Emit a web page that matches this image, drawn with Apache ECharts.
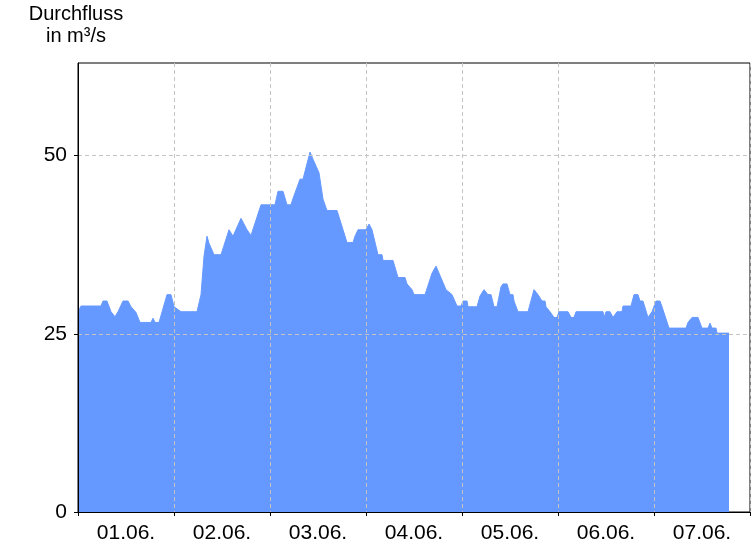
<!DOCTYPE html>
<html>
<head>
<meta charset="utf-8">
<script src="https://cdn.jsdelivr.net/npm/echarts@6/dist/echarts.min.js"></script>
<style>html,body{margin:0;padding:0;background:#fff}#c{width:756px;height:546px}</style>
</head>
<body>
<div id="c"></div>
<script>
// Day labels (each band = one day)
const days = ['01.06.', '02.06.', '03.06.', '04.06.', '05.06.', '06.06.', '07.06.'];
// y axis tick labels
const yTicks = [0, 25, 50];
// time in hours since 01.06. 00:00
const hours = [0, 0.75, 5.75, 6.25, 7.25, 8.25, 9.25, 10, 11.25, 12.5, 13.25, 14.5, 15.5, 18.25, 18.75, 19.25, 20.25, 22.25, 23.25, 24, 25.75, 29.75, 30.75, 31.5, 32.25, 32.75, 33.25, 34, 35.75, 37.75, 38.75, 40.75, 42.25, 43.25, 45.75, 49.25,
  50, 51.25, 52.25, 53.25, 53.75, 54.25, 55.5, 56.25, 58, 58.75, 59, 60.25, 61.25, 62.25, 64.75, 67.25, 68.75, 69.25, 69.75, 70, 72, 72.75, 73.5, 75, 76, 76.25, 78.75, 80, 81.75, 82.25, 83.5, 84, 86.75, 88.5, 89.5, 90, 92, 92.5, 93.5, 94.75, 95.75, 96.25, 97.25,
  97.5, 99.75, 100.5, 101.5, 102, 102.5, 103.25, 104, 104.75, 105.75, 106.25, 107.25, 108, 108.75, 109, 110, 112.5, 114, 114.5, 115, 115.5, 116, 116.75, 117, 117.5, 118, 119, 119.75, 120.25, 122.5, 123.25, 124, 124.5, 131.25,
  131.5, 132, 133, 133.75, 134.25, 134.75, 136, 136.25, 138.25, 139, 140, 140.5, 141.25, 142.5, 143, 143.5, 144.5, 145.5, 146, 146.25, 147.75, 152, 152.5, 153.5, 155, 156, 157.5, 158, 158.5, 159.5, 159.75, 162.75];
// discharge in m³/s
const flow = [28.1, 28.9, 28.9, 29.6, 29.6, 28.1, 27.4, 28.1, 29.6, 29.6, 28.8, 28.0, 26.6, 26.6, 27.2, 26.6, 26.6, 30.5, 30.5, 28.8, 28.1, 28.1, 30.5, 35.9, 38.7, 37.7, 37.7, 36.1, 36.1, 39.6, 38.7, 41.2, 39.6, 38.8, 43.1, 43.1,
  45.0, 45.0, 43.1, 43.1, 44.0, 44.0, 46.7, 46.7, 50.5, 49.5, 49.5, 47.6, 43.9, 42.3, 42.3, 37.8, 37.8, 38.7, 38.7, 39.6, 39.6, 40.4, 39.6, 36.1, 36.1, 35.3, 35.3, 32.9, 32.9, 32.0, 31.2, 30.5, 30.5, 33.5, 34.5, 34.5, 31.2, 31.2, 30.5, 28.9, 28.9, 29.6, 29.6,
  28.8, 28.8, 30.3, 31.2, 31.2, 30.5, 30.5, 28.8, 28.8, 31.6, 32.0, 32.0, 30.5, 30.5, 29.6, 28.1, 28.1, 31.2, 31.2, 30.5, 30.5, 29.6, 29.6, 28.8, 28.8, 28.1, 27.3, 27.3, 28.1, 28.1, 27.3, 27.3, 28.1, 28.1,
  27.3, 28.1, 28.1, 27.3, 27.3, 28.1, 28.1, 28.9, 28.9, 30.5, 30.5, 29.6, 29.6, 27.3, 27.3, 28.1, 29.6, 29.6, 28.8, 28.8, 25.8, 25.8, 26.6, 27.3, 27.3, 25.8, 25.8, 26.5, 25.8, 25.8, 25.1, 25.1];

const FONT = 'Liberation Sans, Arial, sans-serif';
const gridLine = { show: true, lineStyle: { color: '#c4c4c4', type: [4, 3], width: 1 } };

const chart = echarts.init(document.getElementById('c'), null, { renderer: 'canvas' });
chart.setOption({
  animation: false,
  backgroundColor: '#fff',
  graphic: [{
    type: 'text', z: 10, x: 76, y: 3,
    style: { text: 'Durchfluss\nin m³/s', fill: '#000', font: '20px ' + FONT, align: 'center', lineHeight: 22 }
  }],
  grid: { left: 78, right: 6, top: 63, bottom: 34, show: true, borderColor: '#000', borderWidth: 1, backgroundColor: 'transparent' },
  xAxis: [{
    type: 'category', data: days, boundaryGap: true, z: 5,
    axisLine: { show: true, lineStyle: { color: '#000', width: 1 } },
    axisTick: { show: true, length: 4, lineStyle: { color: '#000' } },
    axisLabel: { color: '#000', fontSize: 21, fontFamily: FONT, margin: 11 },
    splitLine: gridLine
  }, {
    type: 'value', min: 0, max: 168, show: false, splitLine: { show: false }
  }],
  yAxis: {
    type: 'value', min: 0, max: 63, z: 5,
    axisLine: { show: true, lineStyle: { color: '#000', width: 1 } },
    axisTick: { show: true, length: 4, customValues: yTicks, lineStyle: { color: '#000' } },
    axisLabel: { color: '#000', fontSize: 21, fontFamily: FONT, margin: 11, customValues: yTicks },
    splitLine: gridLine
  },
  series: [{
    type: 'line', xAxisIndex: 1, yAxisIndex: 0, z: 2,
    data: hours.map((h, i) => [h, flow[i]]),
    showSymbol: false, symbol: 'none',
    lineStyle: { color: '#6699ff', width: 1 },
    areaStyle: { color: '#6699ff', opacity: 1 }
  }]
});
</script>
</body>
</html>
